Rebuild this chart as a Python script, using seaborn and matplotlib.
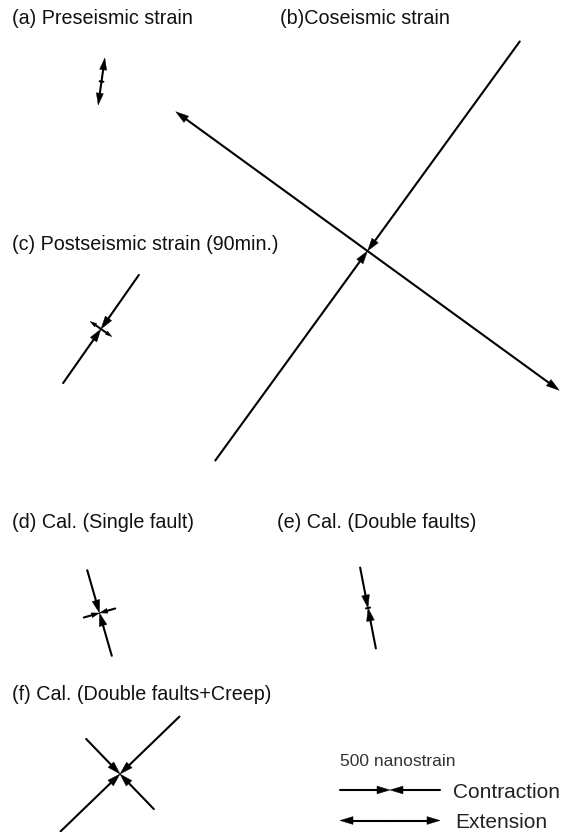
import numpy as np
import pandas as pd
import matplotlib.pyplot as plt
import seaborn as sns

# Strain data per panel (nanostrain, azimuth in deg clockwise from north)
# sign: +1 extension, -1 contraction
panel_labels = ['(a) Preseismic strain', '(b)Coseismic strain',
                '(c) Postseismic strain (90min.)', '(d) Cal. (Single fault)',
                '(e) Cal. (Double faults)', '(f) Cal. (Double faults+Creep)']
major_strain = [237, -2590, -660, -445, -412, -826]
major_azimuth = [8, 36, 35, 164, 169, 46]
minor_strain = [30, 2370, 132, -163, -20, -487]
minor_azimuth = [98, 126, 125, 74, 79, 136]

# layout (pixel coordinates of the figure)
centers = [(101.5, 81.5), (367.5, 251), (101, 329), (99.5, 613), (368, 608), (120, 774)]
label_pos = [(12, 18), (280, 18), (12, 245), (12, 523), (277, 523), (12, 695)]

legend_strain = 500
legend_labels = ['Contraction', 'Extension']
px_per_ns = 0.1  # arm length in pixels per nanostrain

W, H = 563, 832
sns.set_theme(style="white")
plt.rcParams['font.family'] = ['Liberation Sans', 'DejaVu Sans']

fig = plt.figure(figsize=(W / 100, H / 100), dpi=100)
ax = fig.add_axes([0, 0, 1, 1])

segments = []
heads = []


def add_arm(cx, cy, dx, dy, length, extension):
    # dx, dy unit direction on screen
    tx, ty = cx + dx * length, cy + dy * length
    hl = min(13.0, 0.5 * length)
    hw = 0.3 * hl
    if extension:
        tip, back = (tx, ty), (-dx, -dy)
    else:
        tip, back = (cx, cy), (dx, dy)
    bx, by = tip[0] + back[0] * hl, tip[1] + back[1] * hl
    px, py = -dy, dx
    heads.append([tip, (bx + px * hw, by + py * hw), (bx - px * hw, by - py * hw)])
    seg = len(segments)
    if extension:
        segments.append((seg, cx, cy))
        segments.append((seg, bx, by))
    else:
        segments.append((seg, tx, ty))
        segments.append((seg, bx, by))


def add_axis(cx, cy, strain, az):
    t = np.radians(az)
    dx, dy = np.sin(t), -np.cos(t)
    L = abs(strain) * px_per_ns
    for s in (1, -1):
        add_arm(cx, cy, s * dx, s * dy, L, strain > 0)


for i, (cx, cy) in enumerate(centers):
    add_axis(cx, cy, major_strain[i], major_azimuth[i])
    add_axis(cx, cy, minor_strain[i], minor_azimuth[i])

# legend arrows
L = legend_strain * px_per_ns
add_arm(390, 790, -1, 0, L, False)
add_arm(390, 790, 1, 0, L, False)
add_arm(390, 820.5, -1, 0, L, True)
add_arm(390, 820.5, 1, 0, L, True)

df = pd.DataFrame(segments, columns=['seg', 'x', 'y'])
sns.lineplot(data=df, x='x', y='y', units='seg', estimator=None, sort=False,
             color='black', lw=1.5, ax=ax, legend=False)
for h in heads:
    ax.fill([p[0] for p in h], [p[1] for p in h], color='black', lw=0.3)

ax.set_xlim(0, W)
ax.set_ylim(H, 0)
ax.set_aspect('equal')
ax.axis('off')

for lab, (x, y) in zip(panel_labels, label_pos):
    ax.text(x, y, lab, fontsize=14.2, ha='left', va='center', color='#111111')

ax.text(340, 761, f'{legend_strain} nanostrain', fontsize=12.5, ha='left', va='center', color='#333333')
ax.text(453, 792, legend_labels[0], fontsize=15, ha='left', va='center', color='#222222')
ax.text(455, 822, legend_labels[1], fontsize=15, ha='left', va='center', color='#222222')

fig.savefig('out.png', dpi=100, facecolor='white')
